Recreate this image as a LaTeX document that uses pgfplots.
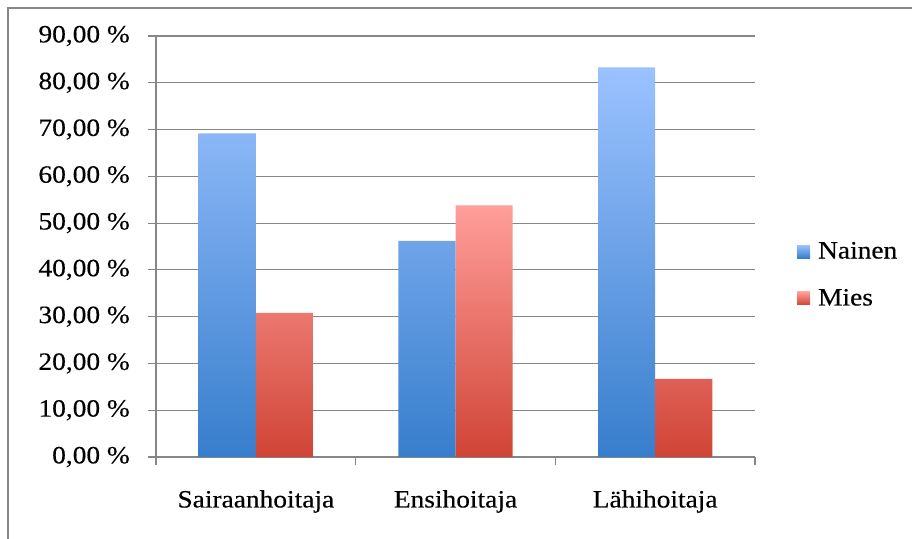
\documentclass[border=0pt]{standalone}
\usepackage{pgfplots}
\pgfplotsset{compat=1.18}
\usepackage{fontspec}
\setmainfont{Liberation Serif}[FakeStretch=1.1, FakeBold=0.4]

\definecolor{frameGray}{RGB}{134,134,134}
\definecolor{gridGray}{RGB}{134,134,134}
\definecolor{blueTop}{RGB}{155,194,255}
\definecolor{blueMid}{RGB}{118,168,235}
\definecolor{blueBot}{RGB}{55,126,204}
\definecolor{redTop}{RGB}{255,158,154}
\definecolor{redMid}{RGB}{238,122,112}
\definecolor{redBot}{RGB}{208,68,54}

\newcommand{\lblfont}{\fontsize{25}{30}\selectfont}

\begin{document}
\begin{tikzpicture}[x=1bp,y=1bp]
\useasboundingbox (0,0) rectangle (912,-539);
\clip (0,0) rectangle (912,-539);
% chart area frame
\draw[frameGray, line width=2bp] (8,-570) -- (8,-8) -- (940,-8);
\begin{axis}[
  at={(156bp,-457bp)}, anchor=south west, scale only axis,
  width=599bp, height=421bp,
  xmin=0.5, xmax=3.5, ymin=0, ymax=90,
  ybar=0pt, bar width=0.286,
  axis x line*=bottom, axis y line*=left,
  axis line style={gridGray, line width=1.2bp},
  ytick={0,10,...,90},
  yticklabels={{0,00~\%},{10,00~\%},{20,00~\%},{30,00~\%},{40,00~\%},
               {50,00~\%},{60,00~\%},{70,00~\%},{80,00~\%},{90,00~\%}},
  xtick={1,2,3},
  xticklabels={Sairaanhoitaja,Ensihoitaja,Lähihoitaja},
  minor xtick={0.5,1.5,2.5,3.5},
  tick align=outside,
  major tick length=8bp, minor tick length=8bp,
  tick style={gridGray, line width=1.2bp},
  major x tick style={draw=none},
  ymajorgrids,
  grid style={gridGray, line width=1.2bp},
  tick label style={font=\lblfont, text=black},
  yticklabel style={inner sep=0pt, xshift=-18bp},
  xticklabel style={inner sep=0pt, yshift=-25bp},
  legend style={at={(1.07,0.4335)}, anchor=west, draw=none, fill=none,
                inner sep=0pt, font=\lblfont, row sep=29bp,
                nodes={inner sep=0pt, text=black}},
  legend cell align=left,
  clip=false,
]
\addplot[draw=none, top color=blueTop, middle color=blueMid, bottom color=blueBot,
  legend image code/.code={\fill[top color=blueTop, bottom color=blueBot] (0bp,-7bp) rectangle (13bp,6bp);\path (0bp,0bp) -- (21bp,0bp);}]
  coordinates {(1,69.2) (2,46.2) (3,83.3)};
\addplot[draw=none, top color=redTop, middle color=redMid, bottom color=redBot,
  legend image code/.code={\fill[top color=redTop, bottom color=redBot] (0bp,-7bp) rectangle (13bp,6bp);\path (0bp,0bp) -- (21bp,0bp);}]
  coordinates {(1,30.8) (2,53.8) (3,16.7)};
\legend{Nainen,Mies}
\end{axis}
\end{tikzpicture}
\end{document}
